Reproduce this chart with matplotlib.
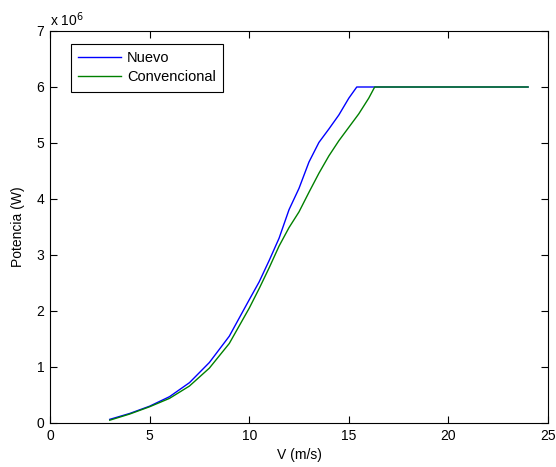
import matplotlib
matplotlib.use("Agg")
import matplotlib.pyplot as plt

plt.rcParams['font.family'] = ['Liberation Sans', 'DejaVu Sans']

# Wind speed (m/s) and power (in units of 1e6 W)
v_nuevo = [3, 4, 5, 6, 7, 8, 9, 10, 10.5, 11, 11.5, 12, 12.5, 13, 13.5, 14, 14.5, 15, 15.4, 24]
p_nuevo = [0.065, 0.17, 0.30, 0.47, 0.72, 1.08, 1.55, 2.2, 2.52, 2.9, 3.3, 3.81, 4.19, 4.66, 5.01, 5.25, 5.5, 5.8, 6.0, 6.0]

v_conv = [3, 4, 5, 6, 7, 8, 9, 10, 10.5, 11, 11.5, 12, 12.5, 13, 13.5, 14, 14.5, 15, 15.5, 16, 16.3, 24]
p_conv = [0.05, 0.16, 0.29, 0.44, 0.66, 0.98, 1.42, 2.05, 2.40, 2.77, 3.16, 3.49, 3.77, 4.12, 4.46, 4.77, 5.04, 5.28, 5.52, 5.80, 6.0, 6.0]

x_ticks = [0, 5, 10, 15, 20, 25]
y_ticks = [0, 1, 2, 3, 4, 5, 6, 7]

fig = plt.figure(figsize=(5.56, 4.67), dpi=100)
ax = fig.add_axes([50/556, 44/467, 498/556, 392/467])

ax.plot(v_nuevo, p_nuevo, color=(0, 0, 1), lw=1.0, label='Nuevo')
ax.plot(v_conv, p_conv, color=(0, 0.5, 0), lw=1.0, label='Convencional')

ax.set_xlim(0, 25)
ax.set_ylim(0, 7)
ax.set_xticks(x_ticks)
ax.set_yticks(y_ticks)
ax.tick_params(direction='in', length=5, width=0.8, top=True, right=True, labelsize=10, pad=4)
for s in ax.spines.values():
    s.set_linewidth(0.8)

ax.set_xlabel('V (m/s)', fontsize=10, labelpad=4)
ax.set_ylabel('Potencia (W)', fontsize=10, labelpad=8)
ax.text(0.0, 1.005, 'x 10$^{6}$', transform=ax.transAxes, fontsize=10, ha='left', va='bottom')

leg = ax.legend(loc='upper left', bbox_to_anchor=(21/498, 1 - 13/392), borderaxespad=0,
                fancybox=False, edgecolor='black', framealpha=1, fontsize=10.5,
                handlelength=2.9, handletextpad=0.45, borderpad=0.5, labelspacing=0.35)
leg.get_frame().set_linewidth(0.8)

fig.savefig('out.png', dpi=100)
